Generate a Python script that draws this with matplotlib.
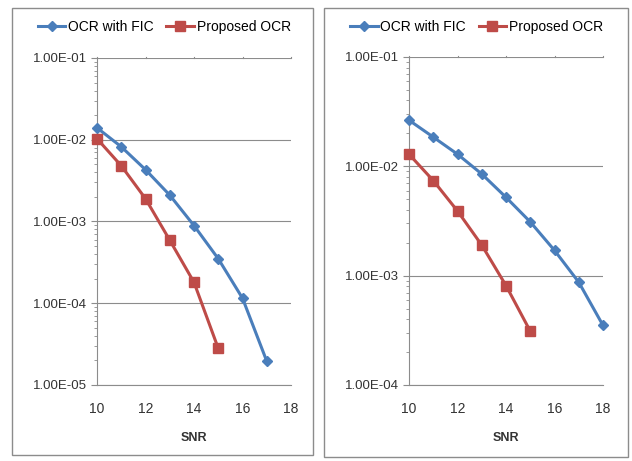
import matplotlib
matplotlib.use("Agg")
import matplotlib.pyplot as plt
from matplotlib.patches import Rectangle
from matplotlib.ticker import LogLocator, NullFormatter, FixedLocator

plt.rcParams["font.family"] = ["Liberation Sans", "DejaVu Sans"]

# ---- data ------------------------------------------------------------------
snr = [10, 11, 12, 13, 14, 15, 16, 17, 18]

left_fic = [1.4e-2, 8.2e-3, 4.3e-3, 2.1e-3, 8.9e-4, 3.5e-4, 1.15e-4, 1.95e-5]
left_prop = [1.03e-2, 4.8e-3, 1.9e-3, 5.9e-4, 1.8e-4, 2.8e-5]

right_fic = [2.64e-2, 1.85e-2, 1.29e-2, 8.5e-3, 5.2e-3, 3.1e-3, 1.7e-3, 8.7e-4, 3.5e-4]
right_prop = [1.29e-2, 7.4e-3, 3.9e-3, 1.9e-3, 8.1e-4, 3.1e-4]

left_ylim = (1e-5, 1e-1)
right_ylim = (1e-4, 1e-1)
x_ticks = [10, 12, 14, 16, 18]

C_FIC = "#4A7EBB"
C_PROP = "#BE4B48"
C_GRID = "#8C8C8C"
C_TEXT = "#333333"

fig = plt.figure(figsize=(6.32, 4.61), dpi=100)

# panel frames
for (x0, y0, w, h) in [(0.019, 0.013, 0.476, 0.970), (0.513, 0.009, 0.481, 0.974)]:
    fig.patches.append(Rectangle((x0, y0), w, h, transform=fig.transFigure,
                                 fill=False, edgecolor="#8C8C8C", lw=1.0))


def sci(v):
    return f"{v:.2E}"


def panel(rect, fic, prop, ylim, legend_x):
    ax = fig.add_axes(rect)
    ax.set_yscale("log")
    ax.plot(snr[:len(fic)], fic, color=C_FIC, lw=2.2, marker="D", ms=5,
            mfc=C_FIC, mec=C_FIC, label="OCR with FIC", zorder=3, clip_on=False)
    ax.plot(snr[:len(prop)], prop, color=C_PROP, lw=2.2, marker="s", ms=7,
            mfc=C_PROP, mec=C_PROP, label="Proposed OCR", zorder=4, clip_on=False)
    ax.set_xlim(10, 18)
    ax.set_ylim(*ylim)
    ax.set_xticks(x_ticks)
    ax.tick_params(axis="x", which="both", length=0, labelsize=10, pad=12,
                   colors=C_TEXT)
    majors = [10.0 ** e for e in range(-5, 0) if ylim[0] <= 10.0 ** e <= ylim[1]]
    ax.yaxis.set_major_locator(FixedLocator(majors))
    ax.set_yticklabels([sci(v) for v in majors])
    ax.yaxis.set_minor_locator(LogLocator(base=10, subs=range(2, 10)))
    ax.yaxis.set_minor_formatter(NullFormatter())
    ax.tick_params(axis="y", which="major", length=4, width=0.8, color=C_GRID,
                   labelsize=9.5, colors=C_TEXT)
    ax.tick_params(axis="y", which="minor", length=2.5, width=0.6, color=C_GRID)
    for v in majors:
        ax.axhline(v, color=C_GRID, lw=0.8, zorder=1)
    # small tick marks along the top edge
    for xv in x_ticks:
        ax.plot([xv, xv], [ylim[1], ylim[1] * 1.03], color=C_GRID, lw=0.8,
                clip_on=False, zorder=1)
    for s in ("top", "right"):
        ax.spines[s].set_visible(False)
    for s in ("left", "bottom"):
        ax.spines[s].set_color(C_GRID)
        ax.spines[s].set_linewidth(0.8)
    ax.set_xlabel("SNR", fontsize=9, fontweight="bold", labelpad=12,
                  color=C_TEXT)
    ax.legend(loc="center", bbox_to_anchor=(legend_x, 0.941),
              bbox_transform=fig.transFigure, ncol=2, frameon=False,
              fontsize=10, handlelength=2.0, handletextpad=0.2,
              columnspacing=0.9)
    return ax


panel([0.1535, 0.1649, 0.307, 0.7093], left_fic, left_prop, left_ylim, 0.260)
panel([0.6472, 0.1649, 0.307, 0.7115], right_fic, right_prop, right_ylim, 0.754)

fig.savefig("out.png", dpi=100)
